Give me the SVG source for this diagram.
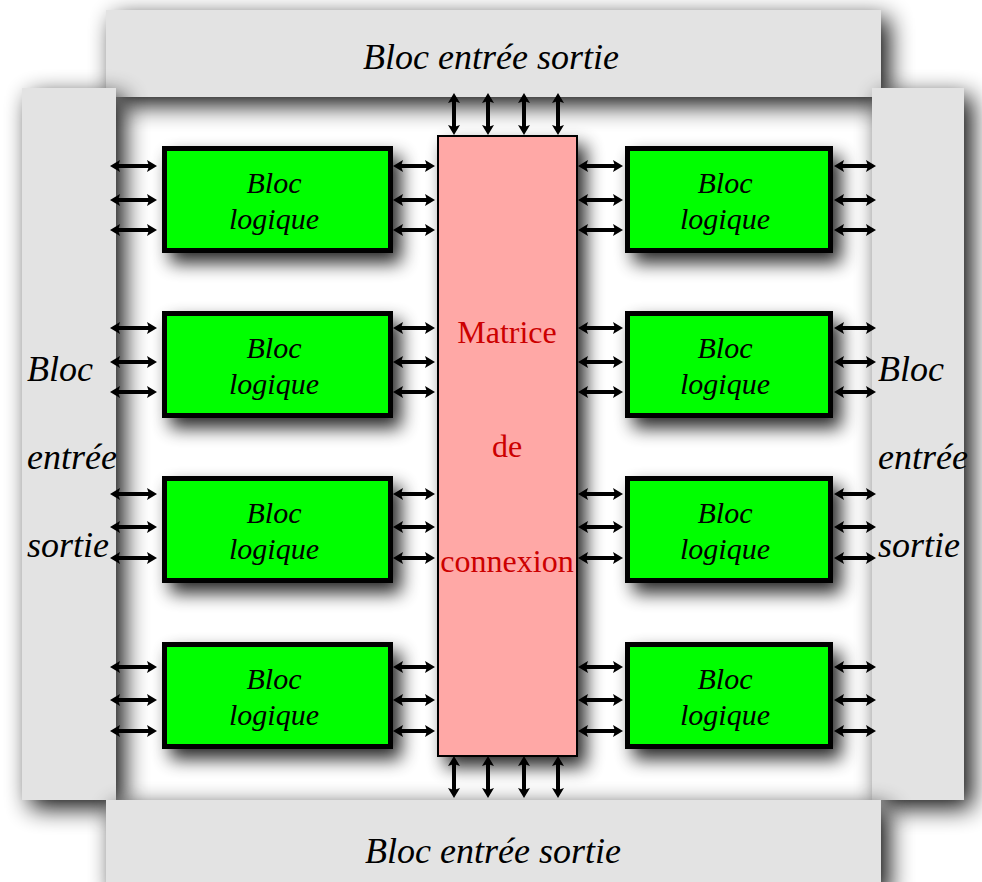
<svg xmlns="http://www.w3.org/2000/svg" width="982" height="882" viewBox="0 0 982 882">
  <defs>
    <filter id="shadowPanel" filterUnits="userSpaceOnUse" x="-50" y="-50" width="1100" height="1000">
      <feGaussianBlur in="SourceAlpha" stdDeviation="12" result="blur"/>
      <feOffset in="blur" dx="8" dy="8" result="off"/>
      <feComponentTransfer in="off" result="shade">
        <feFuncA type="linear" slope="0.95"/>
      </feComponentTransfer>
      <feMerge>
        <feMergeNode in="shade"/>
        <feMergeNode in="SourceGraphic"/>
      </feMerge>
    </filter>
    <filter id="shadowBlock" filterUnits="userSpaceOnUse" x="-50" y="-50" width="1100" height="1000">
      <feGaussianBlur in="SourceAlpha" stdDeviation="9" result="blur"/>
      <feOffset in="blur" dx="8" dy="10" result="off"/>
      <feComponentTransfer in="off" result="shade">
        <feFuncA type="linear" slope="0.85"/>
      </feComponentTransfer>
      <feMerge>
        <feMergeNode in="shade"/>
        <feMergeNode in="SourceGraphic"/>
      </feMerge>
    </filter>
    <marker id="head" viewBox="0 0 10 12" markerUnits="userSpaceOnUse" markerWidth="10" markerHeight="12" refX="2" refY="6" orient="auto-start-reverse">
      <path d="M0,0 L10,6 L0,12 L2,6 z" fill="#000"/>
    </marker>
    <style>
      .panel { fill: #e3e3e3; filter: url(#shadowPanel); }
      .logic { fill: #00ff00; stroke: #000; stroke-width: 5; filter: url(#shadowBlock); }
      .matrix { fill: #ffa8a6; stroke: #000; stroke-width: 2; filter: url(#shadowBlock); }
      .it { font-family: "Liberation Serif", "Times New Roman", serif; font-style: italic; fill: #000; }
      .io { font-size: 36px; }
      .lbl { font-size: 30px; text-anchor: middle; }
      .mtx { font-family: "Liberation Serif", "Times New Roman", serif; font-size: 32px; fill: #cc0000; text-anchor: middle; }
      .conn line { stroke: #000; stroke-width: 4; marker-start: url(#head); marker-end: url(#head); }
    </style>
  </defs>

  <rect width="982" height="882" fill="#fff"/>

  <!-- I/O panels around the chip -->
  <g id="io-top">
    <rect class="panel" x="106" y="10" width="775" height="87"/>
    <text class="it io" x="491" y="69" text-anchor="middle">Bloc entrée sortie</text>
  </g>
  <g id="io-left">
    <rect class="panel" x="22" y="88" width="94" height="712"/>
  </g>
  <g id="io-right">
    <rect class="panel" x="872" y="88" width="92" height="712"/>
  </g>
  <g id="io-bottom">
    <rect class="panel" x="106" y="800" width="775" height="90"/>
    <text class="it io" x="493" y="863" text-anchor="middle">Bloc entrée sortie</text>
  </g>

  <!-- connectors -->
  <g id="connectors" class="conn">
    <!-- row 1 -->
    <line x1="118" y1="166" x2="149" y2="166"/><line x1="118" y1="200" x2="149" y2="200"/><line x1="118" y1="230" x2="149" y2="230"/>
    <line x1="401" y1="166" x2="427" y2="166"/><line x1="401" y1="200" x2="427" y2="200"/><line x1="401" y1="230" x2="427" y2="230"/>
    <line x1="586" y1="166" x2="615" y2="166"/><line x1="586" y1="200" x2="615" y2="200"/><line x1="586" y1="230" x2="615" y2="230"/>
    <line x1="842" y1="166" x2="868" y2="166"/><line x1="842" y1="200" x2="868" y2="200"/><line x1="842" y1="230" x2="868" y2="230"/>
    <!-- row 2 -->
    <line x1="118" y1="328" x2="149" y2="328"/><line x1="118" y1="362" x2="149" y2="362"/><line x1="118" y1="392" x2="149" y2="392"/>
    <line x1="401" y1="328" x2="427" y2="328"/><line x1="401" y1="362" x2="427" y2="362"/><line x1="401" y1="392" x2="427" y2="392"/>
    <line x1="586" y1="328" x2="615" y2="328"/><line x1="586" y1="362" x2="615" y2="362"/><line x1="586" y1="392" x2="615" y2="392"/>
    <line x1="842" y1="328" x2="868" y2="328"/><line x1="842" y1="362" x2="868" y2="362"/><line x1="842" y1="392" x2="868" y2="392"/>
    <!-- row 3 -->
    <line x1="118" y1="494" x2="149" y2="494"/><line x1="118" y1="527" x2="149" y2="527"/><line x1="118" y1="558" x2="149" y2="558"/>
    <line x1="401" y1="494" x2="427" y2="494"/><line x1="401" y1="527" x2="427" y2="527"/><line x1="401" y1="558" x2="427" y2="558"/>
    <line x1="586" y1="494" x2="615" y2="494"/><line x1="586" y1="527" x2="615" y2="527"/><line x1="586" y1="558" x2="615" y2="558"/>
    <line x1="842" y1="494" x2="868" y2="494"/><line x1="842" y1="527" x2="868" y2="527"/><line x1="842" y1="558" x2="868" y2="558"/>
    <!-- row 4 -->
    <line x1="118" y1="667" x2="149" y2="667"/><line x1="118" y1="700" x2="149" y2="700"/><line x1="118" y1="731" x2="149" y2="731"/>
    <line x1="401" y1="667" x2="427" y2="667"/><line x1="401" y1="700" x2="427" y2="700"/><line x1="401" y1="731" x2="427" y2="731"/>
    <line x1="586" y1="667" x2="615" y2="667"/><line x1="586" y1="700" x2="615" y2="700"/><line x1="586" y1="731" x2="615" y2="731"/>
    <line x1="842" y1="667" x2="868" y2="667"/><line x1="842" y1="700" x2="868" y2="700"/><line x1="842" y1="731" x2="868" y2="731"/>
    <!-- matrix to top / bottom I/O -->
    <line x1="454" y1="101" x2="454" y2="127"/><line x1="488" y1="101" x2="488" y2="127"/>
    <line x1="524" y1="101" x2="524" y2="127"/><line x1="558" y1="101" x2="558" y2="127"/>
    <line x1="454" y1="764" x2="454" y2="790"/><line x1="488" y1="764" x2="488" y2="790"/>
    <line x1="524" y1="764" x2="524" y2="790"/><line x1="558" y1="764" x2="558" y2="790"/>
  </g>

  <!-- side I/O labels -->
  <g id="io-left-label" class="it io">
    <text x="27" y="381">Bloc</text>
    <text x="27" y="469">entrée</text>
    <text x="27" y="557">sortie</text>
  </g>
  <g id="io-right-label" class="it io">
    <text x="878" y="381">Bloc</text>
    <text x="878" y="469">entrée</text>
    <text x="878" y="557">sortie</text>
  </g>

  <!-- switch matrix -->
  <g id="matrix">
    <rect class="matrix" x="438" y="136" width="139" height="620"/>
    <text class="mtx" x="507" y="343">Matrice</text>
    <text class="mtx" x="507" y="457">de</text>
    <text class="mtx" x="507" y="572">connexion</text>
  </g>

  <!-- logic blocks, left column -->
  <g id="logic-l1">
    <rect class="logic" x="164.5" y="148.5" width="226" height="102"/>
    <text class="it lbl" x="274" y="193">Bloc</text>
    <text class="it lbl" x="274" y="229">logique</text>
  </g>
  <g id="logic-l2">
    <rect class="logic" x="164.5" y="313.5" width="226" height="102"/>
    <text class="it lbl" x="274" y="358">Bloc</text>
    <text class="it lbl" x="274" y="394">logique</text>
  </g>
  <g id="logic-l3">
    <rect class="logic" x="164.5" y="478.5" width="226" height="102"/>
    <text class="it lbl" x="274" y="523">Bloc</text>
    <text class="it lbl" x="274" y="559">logique</text>
  </g>
  <g id="logic-l4">
    <rect class="logic" x="164.5" y="644.5" width="226" height="102"/>
    <text class="it lbl" x="274" y="689">Bloc</text>
    <text class="it lbl" x="274" y="725">logique</text>
  </g>

  <!-- logic blocks, right column -->
  <g id="logic-r1">
    <rect class="logic" x="627.5" y="148.5" width="203" height="102"/>
    <text class="it lbl" x="725" y="193">Bloc</text>
    <text class="it lbl" x="725" y="229">logique</text>
  </g>
  <g id="logic-r2">
    <rect class="logic" x="627.5" y="313.5" width="203" height="102"/>
    <text class="it lbl" x="725" y="358">Bloc</text>
    <text class="it lbl" x="725" y="394">logique</text>
  </g>
  <g id="logic-r3">
    <rect class="logic" x="627.5" y="478.5" width="203" height="102"/>
    <text class="it lbl" x="725" y="523">Bloc</text>
    <text class="it lbl" x="725" y="559">logique</text>
  </g>
  <g id="logic-r4">
    <rect class="logic" x="627.5" y="644.5" width="203" height="102"/>
    <text class="it lbl" x="725" y="689">Bloc</text>
    <text class="it lbl" x="725" y="725">logique</text>
  </g>
</svg>
